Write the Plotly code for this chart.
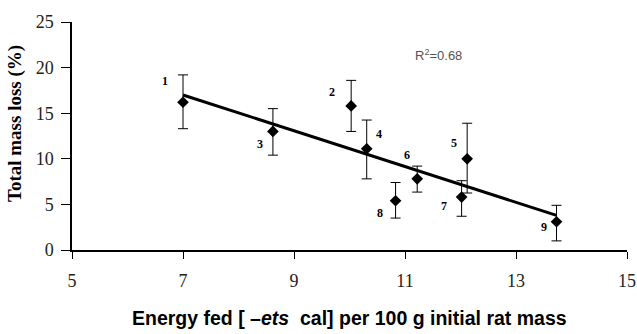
import plotly.graph_objects as go

labels = ["1", "2", "3", "4", "5", "6", "7", "8", "9"]
energy = [7.0, 10.03, 8.62, 10.31, 12.12, 11.22, 12.02, 10.83, 13.73]
mass_loss = [16.2, 15.8, 13.0, 11.1, 10.0, 7.8, 5.8, 5.4, 3.1]
err_plus = [3.0, 2.8, 2.5, 3.15, 3.9, 1.4, 1.8, 2.0, 1.8]
err_minus = [2.9, 2.8, 2.6, 3.3, 3.75, 1.45, 2.1, 1.9, 2.1]
trend_x = [7.0, 13.73]
trend_y = [17.0, 3.8]
x_ticks = [5, 7, 9, 11, 13, 15]
y_ticks = [0, 5, 10, 15, 20, 25]

# label offsets (pixels, screen direction) relative to each point
label_dx = [-18, -19, -13, 12, -13, -10, -18, -16, -13]
label_dy = [-21, -14, 13, -15, -16, -24, 9, 12, 5]

fig = go.Figure()
fig.add_trace(go.Scatter(
    x=trend_x, y=trend_y, mode="lines",
    line=dict(color="black", width=3), showlegend=False, hoverinfo="skip"))
fig.add_trace(go.Scatter(
    x=energy, y=mass_loss, mode="markers",
    marker=dict(symbol="diamond", size=9, color="black"),
    error_y=dict(type="data", symmetric=False, array=err_plus, arrayminus=err_minus,
                 color="black", thickness=1, width=5),
    showlegend=False))

for lab, xv, yv, dx, dy in zip(labels, energy, mass_loss, label_dx, label_dy):
    fig.add_annotation(x=xv, y=yv, text="<b>" + lab + "</b>", showarrow=False,
                       xshift=dx, yshift=-dy,
                       font=dict(family="Liberation Serif", size=12, color="black"))

fig.add_annotation(x=11.6, y=21.4, text="R<sup>2</sup>=0.68", showarrow=False,
                   font=dict(family="Liberation Sans", size=13, color="#555555"))

fig.add_annotation(xref="paper", yref="paper", x=0.5, y=0, yshift=-68,
                   text="<b>Energy fed [ –<i>ets</i>  cal] per 100 g initial rat mass</b>",
                   showarrow=False, yanchor="middle",
                   font=dict(family="Liberation Sans", size=19.5, color="black"))
fig.add_annotation(xref="paper", yref="paper", x=0, xshift=-57, y=0.5, yshift=12,
                   text="<b>Total mass loss (%)</b>", textangle=-90,
                   showarrow=False, xanchor="center", yanchor="middle",
                   font=dict(family="Liberation Serif", size=19, color="black"))

fig.update_layout(
    width=637, height=334,
    margin=dict(l=72, r=10, t=22, b=84),
    plot_bgcolor="white", paper_bgcolor="white",
    xaxis=dict(range=[5, 15], tickvals=x_ticks, showgrid=False, zeroline=False,
               showline=True, linecolor="black", linewidth=1.5, automargin=False,
               ticks="outside", ticklen=7, tickcolor="black",
               ticklabelstandoff=7,
               tickfont=dict(family="Liberation Serif", size=18, color="#222")),
    yaxis=dict(range=[0, 25], tickvals=y_ticks, showgrid=False, zeroline=False,
               showline=True, linecolor="black", linewidth=1.5, automargin=False,
               ticks="outside", ticklen=9, tickcolor="black",
               ticklabelstandoff=4,
               tickfont=dict(family="Liberation Serif", size=18, color="#222")),
)

fig.write_html("out.html", config={"displayModeBar": False},
               post_script="document.body.style.margin='0';")
